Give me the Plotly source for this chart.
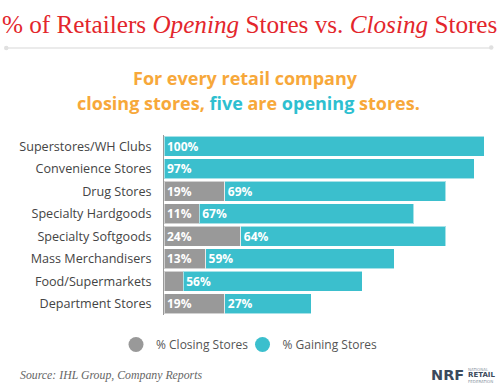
import plotly.graph_objects as go

categories = ["Superstores/WH Clubs", "Convenience Stores", "Drug Stores",
              "Specialty Hardgoods", "Specialty Softgoods", "Mass Merchandisers",
              "Food/Supermarkets", "Department Stores"]
closing = [0, 0, 19, 11, 24, 13, 6, 19]
closing_labels = ["", "", "19%", "11%", "24%", "13%", "", "19%"]
gaining = [100, 97, 69, 67, 64, 59, 56, 27]
gaining_labels = [f"{v}%" for v in gaining]

GREY = "#999999"
TEAL = "#3bbfcd"
W, H = 500, 391

def px_x(x):
    return x / W

def px_y(y):
    return 1 - y / H

fig = go.Figure()
fig.add_trace(go.Bar(
    y=categories, x=closing, orientation="h", name="% Closing Stores",
    marker=dict(color=GREY, line=dict(color="rgba(255,255,255,0.55)", width=1)),
    text=closing_labels, textposition="inside", insidetextanchor="start",
    textfont=dict(family="Open Sans", size=12, color="white", weight="bold"),
    constraintext="none", showlegend=False, hoverinfo="skip"))
fig.add_trace(go.Bar(
    y=categories, x=gaining, orientation="h", name="% Gaining Stores",
    marker=dict(color=TEAL, line=dict(color="rgba(255,255,255,0.55)", width=1)),
    text=gaining_labels, textposition="inside", insidetextanchor="start",
    textfont=dict(family="Open Sans", size=12, color="white", weight="bold"),
    constraintext="none", showlegend=False, hoverinfo="skip"))

# legend entries with circular markers
fig.add_trace(go.Scatter(x=[None], y=[None], mode="markers", name="% Closing Stores",
                         marker=dict(color=GREY, size=15, symbol="circle"),
                         legend="legend"))
fig.add_trace(go.Scatter(x=[None], y=[None], mode="markers", name="% Gaining Stores",
                         marker=dict(color=TEAL, size=15, symbol="circle"),
                         legend="legend2"))

legend_common = dict(orientation="h", xanchor="left", yanchor="middle",
                     y=px_y(344.5),
                     font=dict(family="Open Sans", size=12, color="#555555"),
                     itemwidth=30, bgcolor="rgba(0,0,0,0)")

fig.update_layout(
    width=W, height=H,
    margin=dict(l=0, r=0, t=0, b=0, autoexpand=False),
    paper_bgcolor="white", plot_bgcolor="white",
    barmode="stack", bargap=0.11,
    font=dict(family="Open Sans", color="#444444"),
    xaxis=dict(domain=[px_x(164), px_x(484)], range=[0, 100], visible=False,
               fixedrange=True),
    yaxis=dict(domain=[px_y(315), px_y(135)], autorange="reversed",
               showline=True, linecolor="#9a9a9a", linewidth=1, automargin=False,
               showgrid=False, zeroline=False, ticks="", ticklabelstandoff=9,
               tickfont=dict(family="Open Sans", size=12.6, color="#444444")),
    legend=dict(x=px_x(116), **legend_common),
    legend2=dict(x=px_x(242.5), **legend_common),
    showlegend=True,
)

annotations = [
    dict(text="% of Retailers <i>Opening</i> Stores vs. <i>Closing</i> Stores",
         x=px_x(249), y=px_y(25), xanchor="center", yanchor="middle",
         font=dict(family="Liberation Serif", size=25.2, color="#e3262c")),
    dict(text="<b>For every retail company</b>",
         x=px_x(245), y=px_y(78), xanchor="center", yanchor="middle",
         font=dict(family="Open Sans", size=18, color="#f7a83a")),
    dict(text="<b>closing stores, <span style='color:#2ebfd0'>five</span> are "
              "<span style='color:#2ebfd0'>opening</span> stores.</b>",
         x=px_x(248), y=px_y(103), xanchor="center", yanchor="middle",
         font=dict(family="Open Sans", size=18, color="#f7a83a")),
    dict(text="<i>Source: IHL Group, Company Reports</i>",
         x=px_x(18), y=px_y(375), xanchor="left", yanchor="middle",
         font=dict(family="Liberation Serif", size=11.8, color="#666666")),
    dict(text="<b>NRF</b>",
         x=px_x(429), y=px_y(375), xanchor="left", yanchor="middle",
         font=dict(family="DejaVu Sans", size=14.5, color="#3b4a5c")),
    dict(text="NATIONAL",
         x=px_x(466), y=px_y(369.5), xanchor="left", yanchor="middle",
         font=dict(family="DejaVu Sans", size=4, color="#8a96a3")),
    dict(text="<b>RETAIL</b>",
         x=px_x(466), y=px_y(375), xanchor="left", yanchor="middle",
         font=dict(family="DejaVu Sans", size=7, color="#3b4a5c")),
    dict(text="FEDERATION",
         x=px_x(466), y=px_y(381), xanchor="left", yanchor="middle",
         font=dict(family="DejaVu Sans", size=4, color="#8a96a3")),
]
for a in annotations:
    a.update(xref="paper", yref="paper", showarrow=False)
fig.update_layout(annotations=annotations)

shapes = [
    dict(type="line", x0=px_x(6), x1=px_x(491), y0=px_y(48), y1=px_y(48),
         line=dict(color="#e4e4e4", width=1.5)),
    dict(type="circle", x0=px_x(4), x1=px_x(8.5), y0=px_y(45.8), y1=px_y(50.3),
         fillcolor="#e0e0e0", line=dict(width=0)),
    dict(type="circle", x0=px_x(489), x1=px_x(493.5), y0=px_y(45.3), y1=px_y(49.8),
         fillcolor="#e0e0e0", line=dict(width=0)),
]
for s in shapes:
    s.update(xref="paper", yref="paper")
fig.update_layout(shapes=shapes)

fig.write_html("out.html", config={"displayModeBar": False},
               post_script="document.body.style.margin='0';document.body.style.padding='0';")
